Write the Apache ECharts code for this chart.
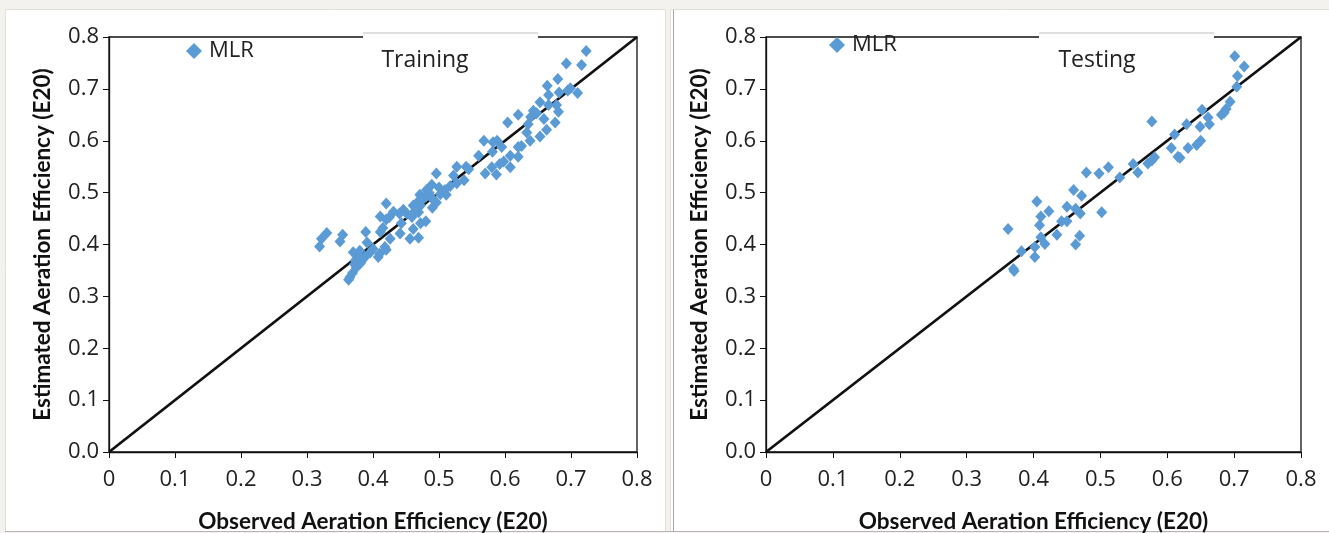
<!DOCTYPE html>
<html>
<head>
<meta charset="utf-8">
<script src="https://cdn.jsdelivr.net/npm/echarts@6/dist/echarts.min.js"></script>
<style>
  html, body { margin: 0; padding: 0; background: #f3f2ee; }
  #chart { width: 1329px; height: 533px; }
</style>
</head>
<body>
<div id="chart"></div>
<script>
// observed vs estimated E20, training set
const trainObs = [0.723, 0.693, 0.716, 0.664, 0.680, 0.666, 0.682, 0.695, 0.699, 0.710,
  0.653, 0.666, 0.678, 0.681, 0.643, 0.648, 0.639, 0.620, 0.659, 0.676,
  0.604, 0.635, 0.633, 0.663, 0.653, 0.638, 0.625, 0.620, 0.568, 0.582,
  0.588, 0.595, 0.560, 0.581, 0.608, 0.620, 0.598, 0.592, 0.608, 0.580,
  0.570, 0.587, 0.527, 0.541, 0.496, 0.522, 0.538, 0.527, 0.517, 0.489,
  0.481, 0.509, 0.511, 0.502, 0.471, 0.476, 0.490, 0.496, 0.467, 0.461,
  0.472, 0.420, 0.446, 0.440, 0.451, 0.460, 0.469, 0.490, 0.411, 0.420,
  0.425, 0.459, 0.443, 0.472, 0.480, 0.461, 0.441, 0.456, 0.469, 0.389,
  0.411, 0.415, 0.426, 0.391, 0.396, 0.410, 0.418, 0.420, 0.408, 0.354,
  0.350, 0.330, 0.322, 0.319, 0.370, 0.380, 0.378, 0.373, 0.383, 0.375,
  0.365, 0.363, 0.369, 0.388, 0.381, 0.372, 0.400, 0.431, 0.485, 0.500,
  0.545, 0.480]
const trainEst = [0.773, 0.749, 0.746, 0.706, 0.719, 0.688, 0.693, 0.697, 0.701, 0.692,
  0.674, 0.669, 0.669, 0.656, 0.658, 0.653, 0.646, 0.650, 0.642, 0.635,
  0.635, 0.632, 0.616, 0.621, 0.608, 0.600, 0.590, 0.588, 0.600, 0.597,
  0.600, 0.588, 0.571, 0.579, 0.571, 0.569, 0.560, 0.555, 0.549, 0.549,
  0.537, 0.535, 0.550, 0.550, 0.537, 0.533, 0.524, 0.518, 0.513, 0.515,
  0.505, 0.505, 0.496, 0.497, 0.496, 0.488, 0.488, 0.481, 0.481, 0.475,
  0.475, 0.479, 0.467, 0.460, 0.460, 0.460, 0.462, 0.471, 0.454, 0.448,
  0.453, 0.453, 0.441, 0.441, 0.445, 0.430, 0.421, 0.411, 0.413, 0.424,
  0.424, 0.432, 0.411, 0.404, 0.385, 0.382, 0.395, 0.390, 0.376, 0.419,
  0.406, 0.422, 0.411, 0.396, 0.385, 0.388, 0.377, 0.369, 0.369, 0.356,
  0.337, 0.332, 0.345, 0.376, 0.364, 0.362, 0.392, 0.463, 0.500, 0.510,
  0.545, 0.492]

// testing set
const testObs = [0.701, 0.715, 0.705, 0.704, 0.694, 0.688, 0.685, 0.681, 0.652, 0.661,
  0.663, 0.649, 0.629, 0.577, 0.611, 0.650, 0.644, 0.631, 0.606, 0.616,
  0.619, 0.581, 0.577, 0.571, 0.549, 0.556, 0.529, 0.512, 0.498, 0.479,
  0.502, 0.460, 0.472, 0.450, 0.463, 0.470, 0.405, 0.423, 0.411, 0.442,
  0.450, 0.409, 0.362, 0.435, 0.469, 0.411, 0.417, 0.463, 0.402, 0.382,
  0.402, 0.370, 0.371]
const testEst = [0.763, 0.743, 0.725, 0.704, 0.675, 0.661, 0.654, 0.650, 0.660, 0.645,
  0.632, 0.627, 0.632, 0.637, 0.612, 0.600, 0.592, 0.586, 0.586, 0.569,
  0.567, 0.568, 0.562, 0.556, 0.555, 0.539, 0.529, 0.549, 0.537, 0.539,
  0.462, 0.505, 0.494, 0.473, 0.469, 0.460, 0.483, 0.464, 0.454, 0.445,
  0.445, 0.437, 0.430, 0.419, 0.417, 0.414, 0.401, 0.400, 0.395, 0.387,
  0.376, 0.353, 0.349]

const lineX = [0, 0.8]
const lineY = [0, 0.8]

const xTicks = ['0', '0.1', '0.2', '0.3', '0.4', '0.5', '0.6', '0.7', '0.8']
const yTicks = ['0.0', '0.1', '0.2', '0.3', '0.4', '0.5', '0.6', '0.7', '0.8']
const panelTitles = ['Training', 'Testing']
const seriesName = 'MLR'
const xName = 'Observed Aeration Efficiency (E20)'
const yName = 'Estimated Aeration Efficiency (E20)'

const BLUE = '#5b9bd5'
const tickFont = { fontFamily: 'Open Sans', fontSize: 22, color: '#222' }
const nameFont = { fontFamily: 'Lato', fontWeight: 'bold', fontSize: 22.5, color: '#111' }

function pairs(xs, ys) {
  return xs.map((x, i) => [x, ys[i]])
}

function xAxisFor(gridIndex) {
  return {
    type: 'value', gridIndex, min: 0, max: 0.8, interval: 0.1,
    name: xName, nameLocation: 'middle', nameGap: 58, nameTextStyle: nameFont,
    axisLine: { show: true, onZero: false, lineStyle: { color: '#111', width: 1.3 } },
    axisTick: { show: true, inside: false, length: 6, lineStyle: { color: '#111' } },
    axisLabel: { ...tickFont, margin: 17, formatter: (v) => xTicks[Math.round(v * 10)] },
    splitLine: { show: false }
  }
}

function yAxisFor(gridIndex) {
  return {
    type: 'value', gridIndex, min: 0, max: 0.8, interval: 0.1,
    name: yName, nameLocation: 'middle', nameGap: 55, nameTextStyle: nameFont,
    axisLine: { show: true, onZero: false, lineStyle: { color: '#111', width: 1.3 } },
    axisTick: { show: true, inside: false, length: 6, lineStyle: { color: '#111' } },
    axisLabel: { ...tickFont, margin: 10, formatter: (v) => yTicks[Math.round(v * 10)] },
    splitLine: { show: false }
  }
}

const chart = echarts.init(document.getElementById('chart'))

chart.setOption({
  animation: false,
  backgroundColor: 'transparent',
  grid: [
    { left: 109, top: 37, width: 528, height: 415, outerBoundsMode: 'none', containLabel: false,
      show: true, borderColor: '#111', borderWidth: 1.3, backgroundColor: '#fff' },
    { left: 766, top: 37, width: 535, height: 415, outerBoundsMode: 'none', containLabel: false,
      show: true, borderColor: '#111', borderWidth: 1.3, backgroundColor: '#fff' }
  ],
  title: [
    { text: panelTitles[0], left: 425, top: 60, textAlign: 'center', textVerticalAlign: 'middle',
      textStyle: { fontFamily: 'Open Sans', fontWeight: 'normal', fontSize: 23, color: '#222' }, padding: 0, z: 20 },
    { text: panelTitles[1], left: 1097, top: 60, textAlign: 'center', textVerticalAlign: 'middle',
      textStyle: { fontFamily: 'Open Sans', fontWeight: 'normal', fontSize: 23, color: '#222' }, padding: 0, z: 20 }
  ],
  legend: [
    { data: [seriesName], left: 186, top: 40, padding: 0, itemWidth: 16, itemHeight: 16, icon: 'diamond',
      textStyle: { fontFamily: 'Open Sans', fontSize: 22, color: '#222', padding: [0, 0, 0, 2] }, selectedMode: false },
    { data: [seriesName], left: 829, top: 34, padding: 0, itemWidth: 16, itemHeight: 16, icon: 'diamond',
      textStyle: { fontFamily: 'Open Sans', fontSize: 22, color: '#222', padding: [0, 0, 0, 2] }, selectedMode: false }
  ],
  xAxis: [xAxisFor(0), xAxisFor(1)],
  yAxis: [yAxisFor(0), yAxisFor(1)],
  graphic: [
    // panel backgrounds
    { type: 'rect', silent: true, z: -10, shape: { x: 5.5, y: 9.5, width: 660, height: 522 },
      style: { fill: '#fff', stroke: '#e2e0d6', lineWidth: 1 } },
    { type: 'rect', silent: true, z: -10, shape: { x: 670.5, y: 9.5, width: 680, height: 522 },
      style: { fill: '#fff', stroke: '#e2e0d6', lineWidth: 1 } },
    { type: 'line', silent: true, z: -9, shape: { x1: 673.5, y1: 10, x2: 673.5, y2: 532 },
      style: { stroke: '#a6a6a6', lineWidth: 1 } },
    { type: 'line', silent: true, z: -9, shape: { x1: 5, y1: 531.5, x2: 1329, y2: 531.5 },
      style: { stroke: '#b5b5b5', lineWidth: 1 } },
    // title boxes covering the top frame
    { type: 'rect', silent: true, z: 10, shape: { x: 363, y: 33, width: 175, height: 20 },
      style: { fill: '#fff', stroke: null } },
    { type: 'line', silent: true, z: 11, shape: { x1: 363, y1: 33, x2: 538, y2: 33 },
      style: { stroke: '#d4d4d4', lineWidth: 1.5 } },
    { type: 'rect', silent: true, z: 10, shape: { x: 1039, y: 33, width: 175, height: 20 },
      style: { fill: '#fff', stroke: null } },
    { type: 'line', silent: true, z: 11, shape: { x1: 1039, y1: 33, x2: 1214, y2: 33 },
      style: { stroke: '#d4d4d4', lineWidth: 1.5 } }
  ],
  series: [
    { type: 'line', xAxisIndex: 0, yAxisIndex: 0, data: pairs(lineX, lineY), showSymbol: false,
      lineStyle: { color: '#111', width: 2.8 }, silent: true, z: 3 },
    { type: 'line', xAxisIndex: 1, yAxisIndex: 1, data: pairs(lineX, lineY), showSymbol: false,
      lineStyle: { color: '#111', width: 2.8 }, silent: true, z: 3 },
    { name: seriesName, type: 'scatter', xAxisIndex: 0, yAxisIndex: 0, data: pairs(trainObs, trainEst),
      symbol: 'diamond', symbolSize: [11, 12], itemStyle: { color: BLUE, opacity: 1 }, z: 4 },
    { name: seriesName, type: 'scatter', xAxisIndex: 1, yAxisIndex: 1, data: pairs(testObs, testEst),
      symbol: 'diamond', symbolSize: [11, 12], itemStyle: { color: BLUE, opacity: 1 }, z: 4 }
  ]
})
</script>
</body>
</html>
